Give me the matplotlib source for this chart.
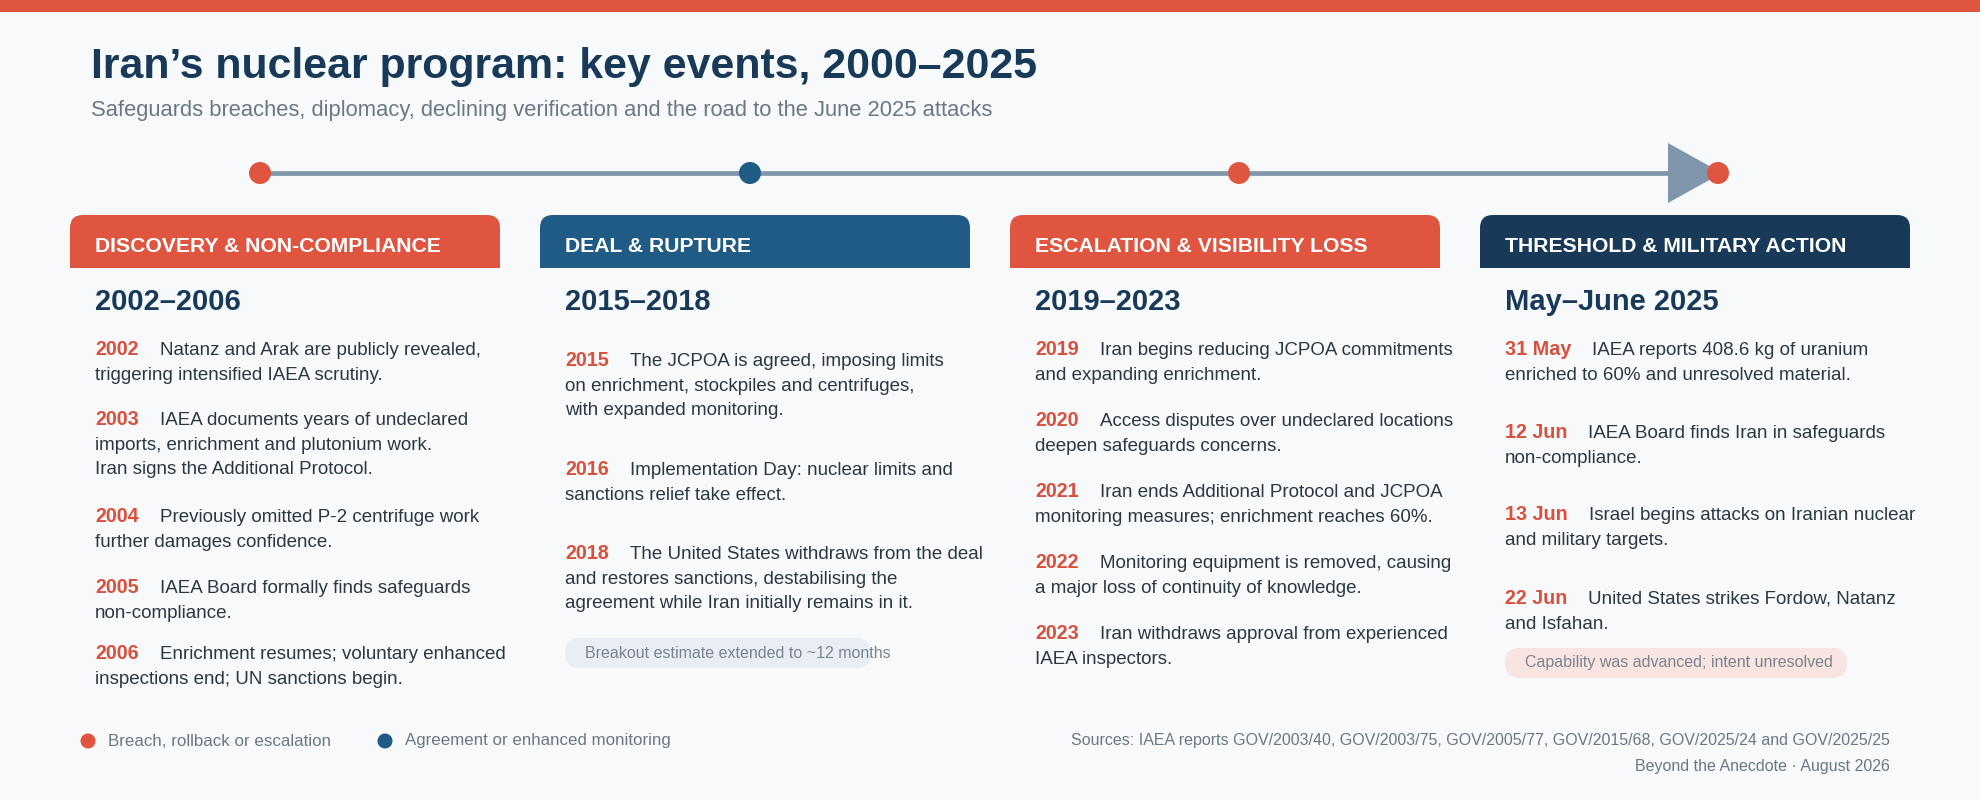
import matplotlib
matplotlib.use("Agg")
import matplotlib.pyplot as plt
from matplotlib.patches import FancyBboxPatch, Rectangle, Circle, Polygon

plt.rcParams['font.family'] = ['Liberation Sans', 'DejaVu Sans']

# colours
RED = "#e0553f"
BLUE = "#1f5b84"
NAVY = "#183a58"
LINE = "#8096aa"
BG = "#f7f9fb"
TEXT = "#2c3744"
GREY = "#6b7785"

# data
title = "Iran\u2019s nuclear program: key events, 2000\u20132025"
subtitle = "Safeguards breaches, diplomacy, declining verification and the road to the June 2025 attacks"

phase_names = ["DISCOVERY & NON-COMPLIANCE", "DEAL & RUPTURE",
               "ESCALATION & VISIBILITY LOSS", "THRESHOLD & MILITARY ACTION"]
phase_periods = ["2002\u20132006", "2015\u20132018", "2019\u20132023", "May\u2013June 2025"]
phase_colors = [RED, BLUE, RED, NAVY]
dot_colors = [RED, BLUE, RED, RED]

labels_1 = ["2002", "2003", "2004", "2005", "2006"]
events_1 = [
    "Natanz and Arak are publicly revealed,\ntriggering intensified IAEA scrutiny.",
    "IAEA documents years of undeclared\nimports, enrichment and plutonium work.\nIran signs the Additional Protocol.",
    "Previously omitted P-2 centrifuge work\nfurther damages confidence.",
    "IAEA Board formally finds safeguards\nnon-compliance.",
    "Enrichment resumes; voluntary enhanced\ninspections end; UN sanctions begin.",
]
labels_2 = ["2015", "2016", "2018"]
events_2 = [
    "The JCPOA is agreed, imposing limits\non enrichment, stockpiles and centrifuges,\nwith expanded monitoring.",
    "Implementation Day: nuclear limits and\nsanctions relief take effect.",
    "The United States withdraws from the deal\nand restores sanctions, destabilising the\nagreement while Iran initially remains in it.",
]
labels_3 = ["2019", "2020", "2021", "2022", "2023"]
events_3 = [
    "Iran begins reducing JCPOA commitments\nand expanding enrichment.",
    "Access disputes over undeclared locations\ndeepen safeguards concerns.",
    "Iran ends Additional Protocol and JCPOA\nmonitoring measures; enrichment reaches 60%.",
    "Monitoring equipment is removed, causing\na major loss of continuity of knowledge.",
    "Iran withdraws approval from experienced\nIAEA inspectors.",
]
labels_4 = ["31 May", "12 Jun", "13 Jun", "22 Jun"]
events_4 = [
    "IAEA reports 408.6 kg of uranium\nenriched to 60% and unresolved material.",
    "IAEA Board finds Iran in safeguards\nnon-compliance.",
    "Israel begins attacks on Iranian nuclear\nand military targets.",
    "United States strikes Fordow, Natanz\nand Isfahan.",
]
phase_labels = [labels_1, labels_2, labels_3, labels_4]
phase_events = [events_1, events_2, events_3, events_4]

badges = {1: "Breakout estimate extended to ~12 months",
          3: "Capability was advanced; intent unresolved"}
badge_fill = {1: "#e8eef4", 3: "#f8e4e0"}

legend_items = ["Breach, rollback or escalation", "Agreement or enhanced monitoring"]
legend_colors = [RED, BLUE]
sources = "Sources: IAEA reports GOV/2003/40, GOV/2003/75, GOV/2005/77, GOV/2015/68, GOV/2025/24 and GOV/2025/25"
credit = "Beyond the Anecdote \u00b7 August 2026"

# layout (pixels)
panel_x = [70, 540, 1010, 1480]
panel_w = 430
event_y = [[348, 418, 515, 586, 652],
           [359, 468, 552],
           [348, 419, 490, 561, 632],
           [348, 431, 513, 597]]
badge_y = {1: 653, 3: 663}
badge_w = {1: 306, 3: 342}
line_h = 24.6

fig = plt.figure(figsize=(19.8, 8), dpi=100, facecolor=BG)
ax = fig.add_axes([0, 0, 1, 1])
ax.set_xlim(0, 1980)
ax.set_ylim(800, 0)
ax.axis("off")
ax.set_facecolor(BG)

ax.add_patch(Rectangle((0, 0), 1980, 12, color=RED, lw=0))

ax.text(91, 78, title, fontsize=30.9, fontweight="bold", color=NAVY, va="baseline")
ax.text(91, 116, subtitle, fontsize=15.85, color=GREY, va="baseline")

# timeline
dot_x = [260, 750, 1239, 1718]
ax.plot([dot_x[0], 1668], [173, 173], color=LINE, lw=3.4, solid_capstyle="butt", zorder=1)
ax.add_patch(Polygon([(1668, 143), (1668, 203), (1722, 173)], closed=True, color=LINE, lw=0, zorder=1))
for x, c in zip(dot_x, dot_colors):
    ax.add_patch(Circle((x, 173), 11, color=c, lw=0, zorder=3))

renderer = fig.canvas.get_renderer()

for i in range(4):
    x0 = panel_x[i]
    col = phase_colors[i]
    ax.add_patch(FancyBboxPatch((x0, 215), panel_w, 53, boxstyle="round,pad=0,rounding_size=13",
                                color=col, lw=0))
    ax.add_patch(Rectangle((x0, 240), panel_w, 28, color=col, lw=0))
    ax.text(x0 + 25, 252, phase_names[i], fontsize=15.2, fontweight="bold", color="white", va="baseline")
    ax.text(x0 + 25, 310, phase_periods[i], fontsize=21, fontweight="bold", color=NAVY, va="baseline")

    tx = x0 + 25
    for lab, ev, y in zip(phase_labels[i], phase_events[i], event_y[i]):
        base = y + 7
        t = ax.text(tx, base, lab, fontsize=14.2, fontweight="bold", color="#d9503c", va="baseline")
        bb = t.get_window_extent(renderer)
        lines = ev.split("\n")
        ax.text(tx + bb.width + 21, base, lines[0], fontsize=13.5, color=TEXT, va="baseline")
        for k, ln in enumerate(lines[1:], start=1):
            ax.text(tx, base + k * line_h, ln, fontsize=13.5, color=TEXT, va="baseline")

    if i in badges:
        by = badge_y[i]
        ax.add_patch(FancyBboxPatch((tx, by - 15), badge_w[i], 30,
                                    boxstyle="round,pad=0,rounding_size=15",
                                    color=badge_fill[i], lw=0))
        ax.text(tx + 20, by, badges[i], fontsize=11.5, color="#7a8591", va="center")

# legend
lx = [88, 385]
for x, c, s in zip(lx, legend_colors, legend_items):
    ax.add_patch(Circle((x, 741), 7.5, color=c, lw=0))
    ax.text(x + 20, 741, s, fontsize=12.2, color=GREY, va="center")

ax.text(1890, 741, sources, fontsize=11.5, color=GREY, va="center", ha="right")
ax.text(1890, 767, credit, fontsize=11.5, color=GREY, va="center", ha="right")

fig.savefig("out.png", dpi=100, facecolor=BG)
